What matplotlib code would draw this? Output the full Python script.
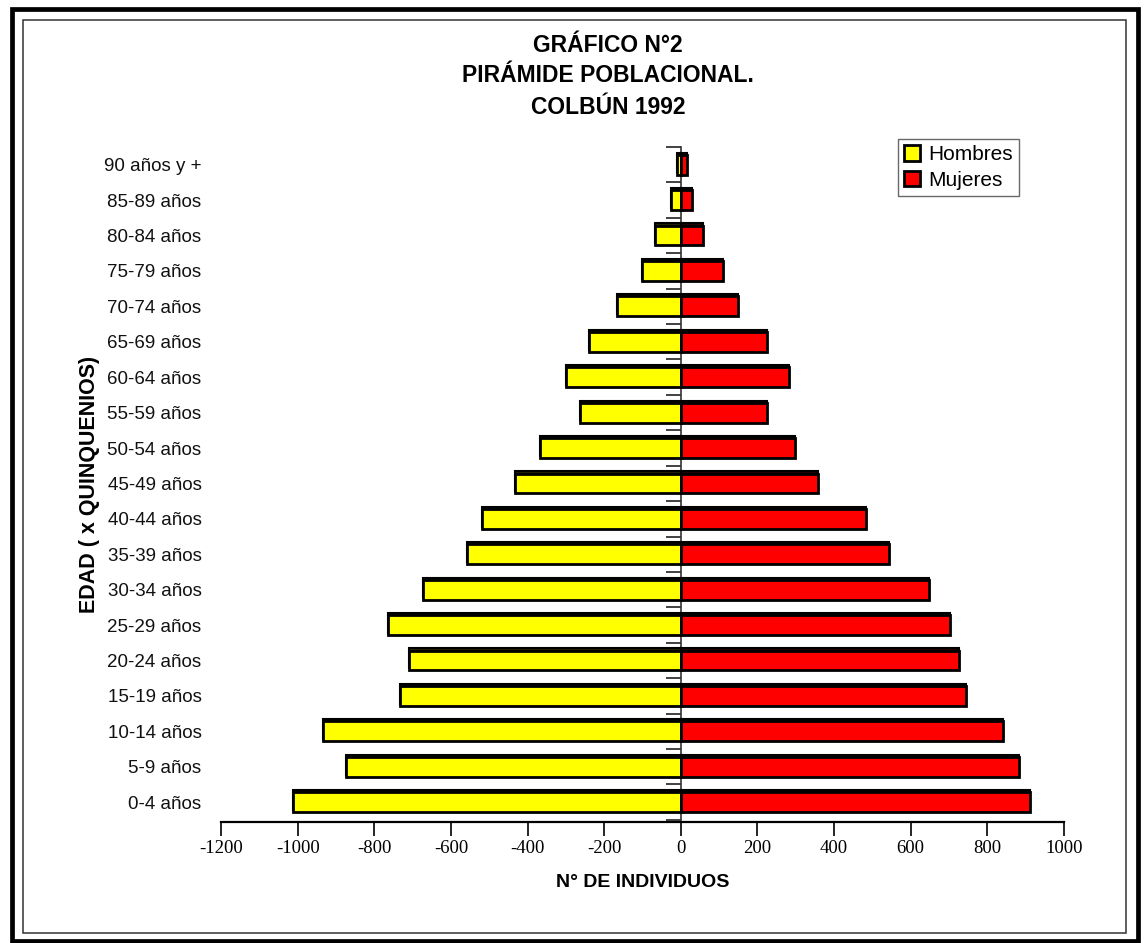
import matplotlib
matplotlib.use("Agg")
import matplotlib.pyplot as plt
from matplotlib.patches import Rectangle
import numpy as np

# ---------------------------------------------------------------------------
# Data
# ---------------------------------------------------------------------------
grupos = ["0-4 años", "5-9 años", "10-14 años", "15-19 años", "20-24 años",
          "25-29 años", "30-34 años", "35-39 años", "40-44 años", "45-49 años",
          "50-54 años", "55-59 años", "60-64 años", "65-69 años", "70-74 años",
          "75-79 años", "80-84 años", "85-89 años", "90 años y +"]
hombres = [-1013, -875, -935, -733, -709, -764, -672, -558, -518, -433,
           -367, -264, -300, -240, -166, -100, -68, -25, -10]
mujeres = [912, 882, 842, 745, 725, 702, 648, 542, 482, 358,
           297, 225, 283, 226, 148, 111, 59, 28, 17]
xticks = [-1200, -1000, -800, -600, -400, -200, 0, 200, 400, 600, 800, 1000]

SANS = ["Liberation Sans", "DejaVu Sans"]
SERIF = ["Liberation Serif", "DejaVu Serif"]

fig = plt.figure(figsize=(11.46, 9.43), dpi=100)
W, H = 1146, 943
ax = fig.add_axes([221 / W, 1 - 822 / H, (1064 - 221) / W, (822 - 147) / H])

y = np.arange(len(grupos))
bh = 0.56
# dark rim behind the bars (gives the thick top edge of the original)
ax.barh(y + 0.06, hombres, height=bh, color="#222200", edgecolor="black",
        linewidth=1.5, zorder=1)
ax.barh(y + 0.06, mujeres, height=bh, color="#220000", edgecolor="black",
        linewidth=1.5, zorder=1)
ax.barh(y, hombres, height=bh, color="#FFFF00", edgecolor="black",
        linewidth=2.0, label="Hombres", zorder=2)
ax.barh(y, mujeres, height=bh, color="#FF0000", edgecolor="black",
        linewidth=2.0, label="Mujeres", zorder=2)

ax.set_xlim(-1200, 1000)
ax.set_ylim(-0.56, len(grupos) - 0.5)

# x axis
ax.set_xticks(xticks)
ax.set_xticklabels([str(v) for v in xticks], family=SERIF, fontsize=13.5)
ax.tick_params(axis="x", direction="out", length=10, width=1.2, pad=3)
for s in ["top", "right", "left"]:
    ax.spines[s].set_visible(False)
ax.spines["bottom"].set_linewidth(1.6)

# y category labels (left), ticks drawn on a secondary axis at x = 0
ax.set_yticks(y)
ax.set_yticklabels(grupos, family=SANS, fontsize=13.5, color="#111111")
ax.tick_params(axis="y", length=0, pad=14)

zero_pos = (0 - (-1200)) / (1000 - (-1200))
sec = ax.secondary_yaxis(zero_pos)
sec.set_alignment("left")
sec.set_yticks(np.arange(-0.5, len(grupos), 1.0))
sec.tick_params(axis="y", direction="out", length=11, width=1.3,
                labelleft=False, labelright=False, color="#333333")
sec.spines["left"].set_linewidth(1.2)
sec.spines["left"].set_color("#333333")

ax.set_xlabel("N° DE INDIVIDUOS", family=SANS, fontsize=14,
              fontweight="bold", labelpad=12)
ax.set_ylabel("EDAD ( x QUINQUENIOS)", family=SANS, fontsize=15.5,
              fontweight="bold")
ax.yaxis.set_label_coords(-0.143, 0.5)

# title
for txt, ypx in [("GRÁFICO N°2", 45), ("PIRÁMIDE POBLACIONAL.", 76),
                 ("COLBÚN 1992", 107)]:
    fig.text(608 / W, 1 - ypx / H, txt, ha="center", va="center",
             family=SANS, fontsize=16.5, fontweight="bold")

leg = ax.legend(loc="upper right", bbox_to_anchor=(1019 / W, 1 - 139 / H),
                bbox_transform=fig.transFigure, frameon=True, fancybox=False,
                prop={"family": SANS, "size": 15}, handlelength=0.75,
                handleheight=0.75, handletextpad=0.4, borderpad=0.3,
                labelspacing=0.3, borderaxespad=0)
leg.get_frame().set_edgecolor("#444444")
leg.get_frame().set_linewidth(1.0)
for h in leg.legend_handles:
    h.set_linewidth(2.0)

# frames around the whole chart
fig.patches.append(Rectangle((12 / W, 1 - 941 / H), (1137.5 - 12) / W,
                             (941 - 9) / H, transform=fig.transFigure,
                             fill=False, edgecolor="black", linewidth=3.4))
fig.patches.append(Rectangle((23 / W, 1 - 933 / H), (1126 - 23) / W,
                             (933 - 19.5) / H, transform=fig.transFigure,
                             fill=False, edgecolor="#333333", linewidth=1.1))

fig.savefig("out.png", dpi=100)
